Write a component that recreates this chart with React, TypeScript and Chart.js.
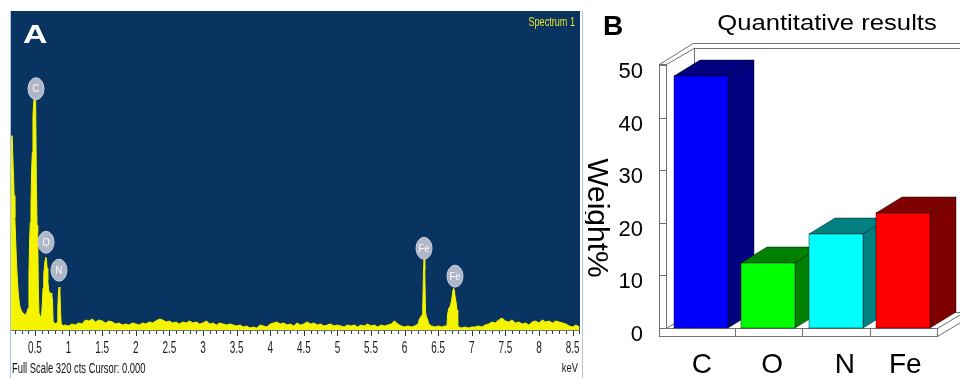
import React, { useEffect, useRef } from "react";
import { Chart, registerables } from "chart.js";

Chart.register(...registerables);

// ---------------- Panel A : EDS spectrum ----------------
const keVRange = [0.143, 8.61];
const fullScaleCounts = 320;
const keVTickLabels = ["0.5", "1", "1.5", "2", "2.5", "3", "3.5", "4", "4.5", "5", "5.5", "6", "6.5", "7", "7.5", "8", "8.5"];

// [keV, counts]
const spectrumPoints: number[][] = [
  [0.143, 190], [0.16, 195], [0.175, 165], [0.19, 135], [0.2, 113], [0.215, 85], [0.228, 63], [0.24, 48],
  [0.251, 37], [0.265, 28], [0.277, 23], [0.3, 19], [0.32, 17], [0.34, 16],
  [0.36, 15], [0.38, 18], [0.4, 22], [0.41, 55], [0.42, 90], [0.43, 108], [0.44, 125], [0.45, 160],
  [0.46, 178], [0.47, 215], [0.48, 228], [0.49, 233], [0.5, 236], [0.51, 230], [0.52, 150], [0.53, 105],
  [0.54, 98], [0.55, 40], [0.56, 16], [0.57, 14], [0.58, 13], [0.59, 14], [0.6, 16], [0.61, 28],
  [0.62, 42], [0.63, 55], [0.64, 63], [0.65, 70], [0.66, 73], [0.67, 71], [0.68, 62], [0.69, 50],
  [0.7, 42], [0.71, 38], [0.72, 37], [0.73, 36], [0.74, 37], [0.75, 35], [0.76, 30], [0.77, 8],
  [0.78, 6], [0.79, 5], [0.8, 7], [0.81, 5], [0.82, 6], [0.83, 8], [0.84, 22], [0.85, 40],
  [0.86, 43], [0.87, 41], [0.88, 20], [0.89, 6], [0.9, 4], [0.95, 5], [1.0, 4], [1.05, 6],
  [1.1, 5], [1.15, 7], [1.2, 6], [1.25, 10], [1.3, 9], [1.35, 11], [1.4, 8], [1.45, 10],
  [1.5, 9], [1.55, 7], [1.6, 9], [1.65, 8], [1.7, 6], [1.75, 7], [1.8, 5], [1.85, 6],
  [1.9, 5], [1.95, 7], [2.0, 6], [2.05, 5], [2.1, 7], [2.15, 6], [2.2, 8], [2.25, 7],
  [2.3, 9], [2.35, 11], [2.4, 10], [2.45, 8], [2.5, 9], [2.55, 7], [2.6, 8], [2.65, 6],
  [2.7, 8], [2.75, 7], [2.8, 9], [2.85, 7], [2.9, 8], [2.95, 6], [3.0, 7], [3.05, 9],
  [3.1, 6], [3.15, 7], [3.2, 5], [3.25, 7], [3.3, 6], [3.35, 5], [3.4, 6], [3.45, 5],
  [3.5, 4], [3.55, 5], [3.6, 3], [3.65, 4], [3.7, 2], [3.75, 3], [3.8, 2], [3.85, 5],
  [3.9, 4], [3.95, 3], [4.0, 6], [4.05, 7], [4.1, 8], [4.15, 6], [4.2, 7], [4.25, 5],
  [4.3, 6], [4.35, 4], [4.4, 7], [4.45, 5], [4.5, 6], [4.55, 8], [4.6, 6], [4.65, 7],
  [4.7, 5], [4.75, 6], [4.8, 4], [4.85, 5], [4.9, 6], [4.95, 4], [5.0, 5], [5.05, 4],
  [5.1, 3], [5.15, 5], [5.2, 4], [5.25, 5], [5.3, 3], [5.35, 5], [5.4, 4], [5.45, 6],
  [5.5, 4], [5.55, 5], [5.6, 3], [5.65, 5], [5.7, 4], [5.75, 5], [5.8, 6], [5.85, 9],
  [5.9, 6], [5.95, 4], [6.0, 3], [6.05, 4], [6.1, 3], [6.15, 4], [6.2, 6], [6.22, 11],
  [6.24, 13], [6.26, 15], [6.27, 22], [6.28, 55], [6.29, 74], [6.3, 60], [6.31, 20], [6.32, 14],
  [6.34, 11], [6.36, 6], [6.4, 4], [6.45, 3], [6.5, 4], [6.55, 3], [6.6, 4], [6.63, 4],
  [6.64, 16], [6.66, 22], [6.68, 24], [6.7, 30], [6.72, 40], [6.73, 42], [6.74, 40], [6.75, 34],
  [6.77, 26], [6.78, 20], [6.79, 6], [6.8, 3], [6.85, 2], [6.9, 3], [6.95, 2], [7.0, 3],
  [7.05, 3], [7.1, 4], [7.15, 3], [7.2, 5], [7.25, 6], [7.3, 8], [7.35, 7], [7.4, 10],
  [7.45, 12], [7.5, 9], [7.55, 8], [7.6, 10], [7.65, 7], [7.7, 8], [7.75, 6], [7.8, 7],
  [7.85, 5], [7.9, 8], [7.95, 9], [8.0, 7], [8.05, 10], [8.1, 8], [8.15, 9], [8.2, 7],
  [8.25, 9], [8.3, 8], [8.35, 7], [8.4, 6], [8.45, 4], [8.5, 3], [8.55, 5], [8.6, 3],
];

const peakNames = ["C", "O", "N", "Fe", "Fe"];
const peakKeV = [0.515, 0.664, 0.857, 6.289, 6.75];
const peakTagCounts = [242, 88, 60, 82, 54];

// ---------------- Panel B : quantitative results ----------------
const elements = ["C", "O", "N", "Fe"];
const weightPercent = [48.0, 12.3, 17.9, 21.8];
const weightTicks = [0, 10, 20, 30, 40, 50];

const FONT = "'Liberation Sans', Arial, sans-serif";

function drawText(
  ctx: CanvasRenderingContext2D,
  text: string,
  x: number,
  y: number,
  font: string,
  color: string,
  align: CanvasTextAlign,
  sx = 1,
  rot = 0
) {
  ctx.save();
  ctx.translate(x, y);
  if (rot) ctx.rotate(rot);
  ctx.scale(sx, 1);
  ctx.font = font;
  ctx.fillStyle = color;
  ctx.textAlign = align;
  ctx.textBaseline = "middle";
  ctx.fillText(text, 0, 0);
  ctx.restore();
}

const spectrumDecor = {
  id: "spectrumDecor",
  beforeDraw(chart: any) {
    const { ctx, width, height, chartArea: ca } = chart;
    ctx.save();
    ctx.fillStyle = "#ffffff";
    ctx.fillRect(0, 0, width, height);
    ctx.fillStyle = "#093461";
    ctx.fillRect(ca.left, ca.top, ca.right - ca.left, ca.bottom - ca.top);
    ctx.restore();
  },
  afterDraw(chart: any) {
    const { ctx, height, chartArea: ca, scales } = chart;
    const xs = scales.x;
    const ys = scales.y;
    ctx.save();
    // frame
    ctx.strokeStyle = "#a9c6e2";
    ctx.lineWidth = 1;
    ctx.beginPath();
    ctx.moveTo(ca.left - 0.5, ca.top);
    ctx.lineTo(ca.left - 0.5, height);
    ctx.moveTo(ca.right + 2.5, ca.top);
    ctx.lineTo(ca.right + 2.5, height);
    ctx.stroke();
    // axis line
    ctx.strokeStyle = "#6b7a90";
    ctx.beginPath();
    ctx.moveTo(ca.left, ca.bottom + 0.5);
    ctx.lineTo(ca.right, ca.bottom + 0.5);
    ctx.stroke();
    // ticks every 0.1 keV
    ctx.strokeStyle = "#333";
    ctx.beginPath();
    for (let i = Math.ceil(xs.min * 10); i <= Math.floor(xs.max * 10); i++) {
      const px = Math.round(xs.getPixelForValue(i / 10)) + 0.5;
      const len = i % 5 === 0 ? 5 : 3;
      ctx.moveTo(px, ca.bottom + 1);
      ctx.lineTo(px, ca.bottom + 1 + len);
    }
    ctx.stroke();
    keVTickLabels.forEach((l) => {
      drawText(ctx, l, xs.getPixelForValue(parseFloat(l)), ca.bottom + 19, `16px ${FONT}`, "#1a1a1a", "center", 0.62);
    });
    drawText(ctx, `Full Scale ${fullScaleCounts} cts Cursor: 0.000`, ca.left + 1, ca.bottom + 39, `14px ${FONT}`, "#111", "left", 0.67);
    drawText(ctx, "keV", ca.right - 2, ca.bottom + 38, `13px ${FONT}`, "#111", "right", 0.72);
    drawText(ctx, "Spectrum 1", ca.right - 5, ca.top + 11, `13px ${FONT}`, "#e4e42a", "right", 0.7);
    drawText(ctx, "A", ca.left + 12, ca.top + 25, `bold 26px ${FONT}`, "#ffffff", "left", 1.3);
    // peak tags
    peakNames.forEach((n, i) => {
      const px = xs.getPixelForValue(peakKeV[i]);
      const py = ys.getPixelForValue(peakTagCounts[i]);
      ctx.beginPath();
      ctx.ellipse(px, py, 8, 11, 0, 0, Math.PI * 2);
      ctx.fillStyle = "#aeb6c8";
      ctx.fill();
      ctx.strokeStyle = "#c8d0de";
      ctx.stroke();
      drawText(ctx, n, px, py + 0.5, `11px ${FONT}`, "#ffffff", "center", 0.85);
    });
    ctx.restore();
  },
};

function SpectrumPanel() {
  const ref = useRef<HTMLCanvasElement>(null);
  useEffect(() => {
    const chart = new Chart(ref.current!, {
      type: "line",
      data: {
        datasets: [
          {
            data: spectrumPoints.map(([x, y]) => ({ x, y })),
            borderColor: "#f4f400",
            backgroundColor: "#f4f400",
            borderWidth: 1,
            fill: "origin",
            pointRadius: 0,
            tension: 0,
          },
        ],
      },
      options: {
        animation: false,
        responsive: false,
        devicePixelRatio: 1,
        layout: { padding: { left: 11, right: 5, top: 11, bottom: 48 } },
        scales: {
          x: { type: "linear", min: keVRange[0], max: keVRange[1], display: false },
          y: { min: 0, max: fullScaleCounts, display: false },
        },
        plugins: { legend: { display: false }, tooltip: { enabled: false } },
      },
      plugins: [spectrumDecor],
    } as any);
    return () => chart.destroy();
  }, []);
  return (
    <canvas
      ref={ref}
      width={585}
      height={378}
      style={{ position: "absolute", left: 0, top: 0, width: 585, height: 378 }}
    />
  );
}

const frontColors = ["#0000ff", "#00ff00", "#00ffff", "#ff0000"];
const sideColors = ["#000080", "#008000", "#008080", "#800000"];
const labelNudge = [1, 4, 9, 2];

const bar3D = {
  id: "bar3D",
  beforeDatasetsDraw(chart: any) {
    const { ctx, chartArea: ca, scales, width, height } = chart;
    const ys = scales.y;
    const xs = scales.x;
    const L = ca.left;
    const R = ca.right;
    const B = Math.round(ys.getPixelForValue(0));
    const T = Math.round(ys.getPixelForValue(weightTicks[weightTicks.length - 1]));
    const wo = L - 8;
    const wi = L - 1;
    const top = T - 1;
    const fb = B + 8;
    const D = { x: 28, y: -16 };
    const Do = { x: 34, y: -21 };
    const d = { x: 26, y: -16 };
    const h = (v: number) => Math.round(v) + 0.5;

    ctx.save();
    ctx.fillStyle = "#ffffff";
    ctx.fillRect(0, 0, width, height);
    ctx.strokeStyle = "#707070";
    ctx.lineWidth = 1;
    const line = (pts: number[][]) => {
      ctx.beginPath();
      pts.forEach(([x, y], i) => (i ? ctx.lineTo(x, y) : ctx.moveTo(x, y)));
      ctx.stroke();
    };
    // back wall top slab
    line([[wi + D.x, h(top + D.y)], [width + 60, h(top + D.y)]]);
    line([[wo + Do.x, h(top + Do.y)], [width + 60, h(top + Do.y)]]);
    // back inner corner
    line([[h(wi + D.x), top + D.y], [h(wi + D.x), B + D.y]]);
    // floor back edge
    line([[wi + D.x, h(B + D.y)], [R + D.x, h(B + D.y)]]);
    // left wall inner bottom edge
    line([[wi, B + 0.5], [wi + D.x, B + D.y + 0.5]]);
    // left wall top face
    line([[wo + 0.5, top + 0.5], [wo + Do.x, top + Do.y + 0.5]]);
    line([[wi + 0.5, top + 0.5], [wi + D.x, top + D.y + 0.5]]);
    // left wall front face
    ctx.strokeRect(h(wo), h(top), wi - wo, fb - top);
    weightTicks.forEach((v) => {
      const py = h(ys.getPixelForValue(v));
      line([[wo, py], [wi + 1, py]]);
    });
    // floor front face
    ctx.fillStyle = "#ffffff";
    ctx.fillRect(wo, B, R - wo, fb - B);
    ctx.strokeRect(h(wo), h(B), R - wo, fb - B);
    for (let i = 1; i < elements.length; i++) {
      const px = h(xs.getPixelForValue(i - 0.5));
      line([[px, B], [px, fb]]);
    }
    // floor right side
    line([[R + 0.5, B + 0.5], [R + D.x, B + D.y]]);
    line([[R + 0.5, fb + 0.5], [R + D.x, fb + D.y]]);

    // 3D bars
    const meta = chart.getDatasetMeta(0);
    const poly = (pts: number[][], fill: string) => {
      ctx.beginPath();
      pts.forEach(([x, y], i) => (i ? ctx.lineTo(x, y) : ctx.moveTo(x, y)));
      ctx.closePath();
      ctx.fillStyle = fill;
      ctx.fill();
      ctx.strokeStyle = "rgba(0,0,0,0.55)";
      ctx.lineWidth = 0.8;
      ctx.stroke();
    };
    meta.data.forEach((bar: any, i: number) => {
      const { x, y, base, width: bw } = bar.getProps(["x", "y", "base", "width"], true);
      const xl = Math.round(x - bw / 2);
      const xr = Math.round(x + bw / 2);
      const yt = Math.round(y);
      const yb = Math.round(base);
      poly([[xl, yt], [xr, yt], [xr + d.x, yt + d.y], [xl + d.x, yt + d.y]], sideColors[i]);
      poly([[xr, yt], [xr + d.x, yt + d.y], [xr + d.x, yb + d.y], [xr, yb]], sideColors[i]);
      poly([[xl, yt], [xr, yt], [xr, yb], [xl, yb]], frontColors[i]);
    });
    ctx.restore();
    return false;
  },
  afterDraw(chart: any) {
    const { ctx, chartArea: ca, scales } = chart;
    const ys = scales.y;
    const L = ca.left;
    const B = ys.getPixelForValue(0);
    weightTicks.forEach((v) => {
      drawText(ctx, String(v), L - 24, ys.getPixelForValue(v) + 7, `22px ${FONT}`, "#000", "right");
    });
    const meta = chart.getDatasetMeta(0);
    meta.data.forEach((bar: any, i: number) => {
      drawText(ctx, elements[i], bar.x + labelNudge[i], B + 37, `28px ${FONT}`, "#000", "center");
    });
    drawText(ctx, "Quantitative results", 242, 24, `22.5px ${FONT}`, "#000", "center", 1.14);
    drawText(ctx, "Weight%", 11, 218, `30px ${FONT}`, "#000", "center", 1, Math.PI / 2);
    drawText(ctx, "B", 18, 27, `bold 28px ${FONT}`, "#000", "left");
  },
};

function QuantPanel() {
  const ref = useRef<HTMLCanvasElement>(null);
  useEffect(() => {
    const chart = new Chart(ref.current!, {
      type: "bar",
      data: {
        labels: elements,
        datasets: [
          {
            data: weightPercent,
            backgroundColor: frontColors,
            categoryPercentage: 1,
            barPercentage: 0.8,
          },
        ],
      },
      options: {
        animation: false,
        responsive: false,
        devicePixelRatio: 1,
        layout: { padding: { left: 82, right: 23, top: 65, bottom: 50 } },
        scales: {
          x: { type: "category", display: false, offset: true },
          y: { min: 0, max: 50, display: false },
        },
        plugins: { legend: { display: false }, tooltip: { enabled: false } },
      },
      plugins: [bar3D],
    } as any);
    return () => chart.destroy();
  }, []);
  return (
    <canvas
      ref={ref}
      width={375}
      height={378}
      style={{ position: "absolute", left: 585, top: 0, width: 375, height: 378 }}
    />
  );
}

export default function App() {
  return (
    <div
      style={{
        position: "fixed",
        left: 0,
        top: 0,
        width: 960,
        height: 378,
        background: "#ffffff",
        overflow: "hidden",
      }}
    >
      <SpectrumPanel />
      <QuantPanel />
    </div>
  );
}
